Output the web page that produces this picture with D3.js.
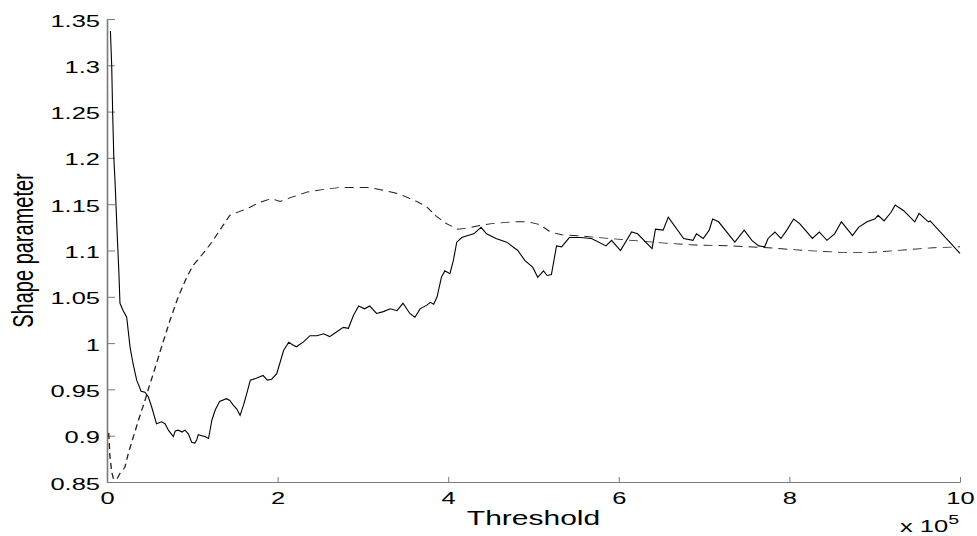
<!DOCTYPE html>
<html>
<head>
<meta charset="utf-8">
<script src="https://cdnjs.cloudflare.com/ajax/libs/d3/7.8.5/d3.min.js"></script>
<style>
  body { margin: 0; background: #fff; }
  text { font-family: "Liberation Sans", Arial, Helvetica, sans-serif; fill: #000; }
</style>
</head>
<body>
<svg id="chart" width="977" height="536"></svg>
<script>
// threshold in units of 1e5, shape parameter estimate
var solidX = [0.04, 0.055, 0.066, 0.08, 0.094, 0.123, 0.14, 0.152, 0.19, 0.231, 0.27, 0.305, 0.348, 0.40, 0.445,
  0.484, 0.524, 0.58, 0.64, 0.68, 0.72, 0.777, 0.80, 0.836, 0.88, 0.914, 0.953, 0.993, 1.03, 1.05, 1.07,
  1.11, 1.15, 1.19, 1.23, 1.27, 1.32, 1.40, 1.44, 1.48, 1.52, 1.56, 1.60, 1.64, 1.68, 1.75, 1.83, 1.88,
  1.93, 1.99, 2.07, 2.13, 2.18, 2.22, 2.30, 2.38, 2.46, 2.54, 2.61, 2.69, 2.77, 2.83, 2.89, 2.95, 3.02,
  3.08, 3.16, 3.24, 3.32, 3.40, 3.47, 3.55, 3.61, 3.67, 3.75, 3.79, 3.83, 3.87, 3.92, 3.96, 4.02, 4.06,
  4.10, 4.16, 4.22, 4.30, 4.385, 4.45, 4.56, 4.686, 4.816, 4.90, 4.99, 5.05, 5.117, 5.16, 5.21, 5.27,
  5.33, 5.42, 5.55, 5.68, 5.85, 5.915, 6.02, 6.15, 6.22, 6.39, 6.43, 6.52, 6.58, 6.76, 6.87, 6.91, 6.99,
  7.06, 7.10, 7.17, 7.36, 7.47, 7.56, 7.64, 7.71, 7.75, 7.83, 7.90, 7.97, 8.05, 8.12, 8.27, 8.35, 8.44,
  8.53, 8.61, 8.74, 8.81, 8.91, 9.00, 9.04, 9.11, 9.19, 9.24, 9.34, 9.47, 9.52, 9.63, 9.65, 10.0];
var solidY = [1.337, 1.30, 1.25, 1.20, 1.175, 1.11, 1.075, 1.043, 1.035, 1.028, 0.996, 0.978, 0.96, 0.948, 0.947,
  0.942, 0.931, 0.913, 0.915, 0.913, 0.906, 0.899, 0.905, 0.906, 0.904, 0.906, 0.902, 0.893, 0.892, 0.895, 0.901,
  0.90, 0.899, 0.897, 0.917, 0.928, 0.937, 0.94, 0.938, 0.933, 0.929, 0.922, 0.933, 0.946, 0.96, 0.962, 0.965, 0.96,
  0.961, 0.967, 0.992, 1.001, 0.998, 0.996, 1.001, 1.008, 1.008, 1.01, 1.007, 1.012, 1.017, 1.016, 1.03, 1.04, 1.037,
  1.04, 1.032, 1.034, 1.037, 1.035, 1.043, 1.032, 1.028, 1.037, 1.041, 1.044, 1.042, 1.05, 1.071, 1.078, 1.075, 1.089,
  1.109, 1.114, 1.116, 1.118, 1.125, 1.118, 1.113, 1.109, 1.10, 1.089, 1.082, 1.071, 1.078, 1.073, 1.074, 1.105,
  1.104, 1.114, 1.114, 1.113, 1.105, 1.111, 1.10, 1.12, 1.118, 1.102, 1.123, 1.122, 1.136, 1.113, 1.111, 1.118, 1.113,
  1.122, 1.134, 1.131, 1.109, 1.122, 1.111, 1.105, 1.104, 1.113, 1.12, 1.113, 1.122, 1.134, 1.129, 1.113, 1.12, 1.111,
  1.118, 1.131, 1.116, 1.125, 1.131, 1.134, 1.138, 1.132, 1.141, 1.149, 1.143, 1.131, 1.14, 1.131, 1.132, 1.097];

var dashX = [0.02, 0.035, 0.055, 0.074, 0.11, 0.15, 0.21, 0.25, 0.31, 0.37, 0.445, 0.50, 0.543, 0.64, 0.74,
  0.836, 0.934, 1.01, 1.11, 1.23, 1.345, 1.44, 1.52, 1.64, 1.79, 1.93, 2.03, 2.15, 2.34, 2.54, 2.73, 2.93,
  3.08, 3.24, 3.43, 3.63, 3.75, 3.86, 3.98, 4.11, 4.22, 4.37, 4.51, 4.77, 4.94, 5.07, 5.20, 5.33, 5.51,
  5.76, 6.02, 6.28, 6.54, 6.88, 7.32, 7.75, 8.18, 8.61, 8.96, 9.26, 9.69, 10.0];
var dashY = [0.903, 0.877, 0.861, 0.854, 0.852, 0.859, 0.866, 0.881, 0.899, 0.917, 0.938, 0.955, 0.967, 0.996, 1.025,
  1.05, 1.071, 1.084, 1.095, 1.109, 1.125, 1.138, 1.141, 1.145, 1.152, 1.156, 1.153, 1.157, 1.163, 1.166, 1.168, 1.168,
  1.168, 1.165, 1.161, 1.153, 1.147, 1.137, 1.129, 1.123, 1.124, 1.127, 1.129, 1.131, 1.131, 1.128, 1.12, 1.117, 1.116,
  1.114, 1.112, 1.11, 1.108, 1.106, 1.105, 1.103, 1.10, 1.098, 1.098, 1.10, 1.103, 1.104];

var xTicks = [0, 2, 4, 6, 8, 10];
var yTicks = [0.85, 0.9, 0.95, 1, 1.05, 1.1, 1.15, 1.2, 1.25, 1.3, 1.35];

var margin = { top: 19, right: 17, bottom: 54, left: 107 };
var W = 977, H = 536;
var stretch = 1.5; // the original figure is widened horizontally, text and dashes included

var svg = d3.select('#chart');
var g = svg.append('g').attr('transform', 'translate(' + margin.left + ',' + margin.top + ')');
var w = W - margin.left - margin.right;
var h = H - margin.top - margin.bottom;

var x = d3.scaleLinear().domain([0, 10]).range([0, w]);
var y = d3.scaleLinear().domain([0.85, 1.35]).range([h, 0]);
// same x scale in the unstretched frame, used for the dashed curve
var xs = d3.scaleLinear().domain([0, 10]).range([0, w / stretch]);

var axisColor = '#7a7a7a';

// x axis, ticks pointing inward
var xAxis = g.append('g')
  .attr('transform', 'translate(0,' + h + ')')
  .call(d3.axisBottom(x).tickValues(xTicks).tickSizeInner(-5).tickSizeOuter(0).tickFormat(d3.format('d')));

// y axis, ticks pointing inward
var yAxis = g.append('g')
  .call(d3.axisLeft(y).tickValues(yTicks).tickSizeInner(-8).tickSizeOuter(0)
    .tickFormat(function(d) { return String(+d.toFixed(2)); }));

xAxis.select('.domain').attr('stroke', axisColor).attr('stroke-width', 1.1);
yAxis.select('.domain').attr('stroke', axisColor).attr('stroke-width', 1.6);
[xAxis, yAxis].forEach(function(a) {
  a.selectAll('.tick line').attr('stroke', axisColor).attr('stroke-width', 1);
});

xAxis.selectAll('.tick text')
  .attr('x', null).attr('y', null).attr('dy', null)
  .attr('font-size', 17)
  .attr('text-anchor', 'middle')
  .attr('transform', 'translate(0,22) scale(' + stretch + ',1)');

yAxis.selectAll('.tick text')
  .attr('x', null).attr('y', null).attr('dy', null)
  .attr('font-size', 17)
  .attr('text-anchor', 'end')
  .attr('transform', 'translate(-7,7) scale(' + stretch + ',1)');

// lines
var line = d3.line()
  .x(function(d) { return x(d[0]); })
  .y(function(d) { return y(d[1]); });

var lineS = d3.line()
  .x(function(d) { return xs(d[0]); })
  .y(function(d) { return y(d[1]); });

var dashed = dashX.map(function(v, i) { return [v, dashY[i]]; });
var solid = solidX.map(function(v, i) { return [v, solidY[i]]; });

g.append('g')
  .attr('transform', 'scale(' + stretch + ',1)')
  .append('path')
  .datum(dashed)
  .attr('d', lineS)
  .attr('fill', 'none')
  .attr('stroke', '#222')
  .attr('stroke-width', 0.9)
  .attr('stroke-dasharray', '6,4');

g.append('path')
  .datum(solid)
  .attr('d', line)
  .attr('fill', 'none')
  .attr('stroke', '#000')
  .attr('stroke-width', 1.1);

// axis labels
svg.append('text')
  .attr('font-size', 20)
  .attr('text-anchor', 'middle')
  .attr('transform', 'translate(' + (margin.left + w / 2) + ',525) scale(' + stretch + ',1)')
  .text('Threshold');

svg.append('text')
  .attr('font-size', 20)
  .attr('text-anchor', 'middle')
  .attr('transform', 'translate(33,' + (margin.top + h / 2) + ') scale(' + stretch + ',1) rotate(-90)')
  .text('Shape parameter');

// exponent note under the x axis
var expo = svg.append('text')
  .attr('font-size', 17)
  .attr('transform', 'translate(900,532) scale(' + stretch + ',1)');
expo.append('tspan').text('x 10');
expo.append('tspan').attr('font-size', 13).attr('dy', -8).text('5');
</script>
</body>
</html>
